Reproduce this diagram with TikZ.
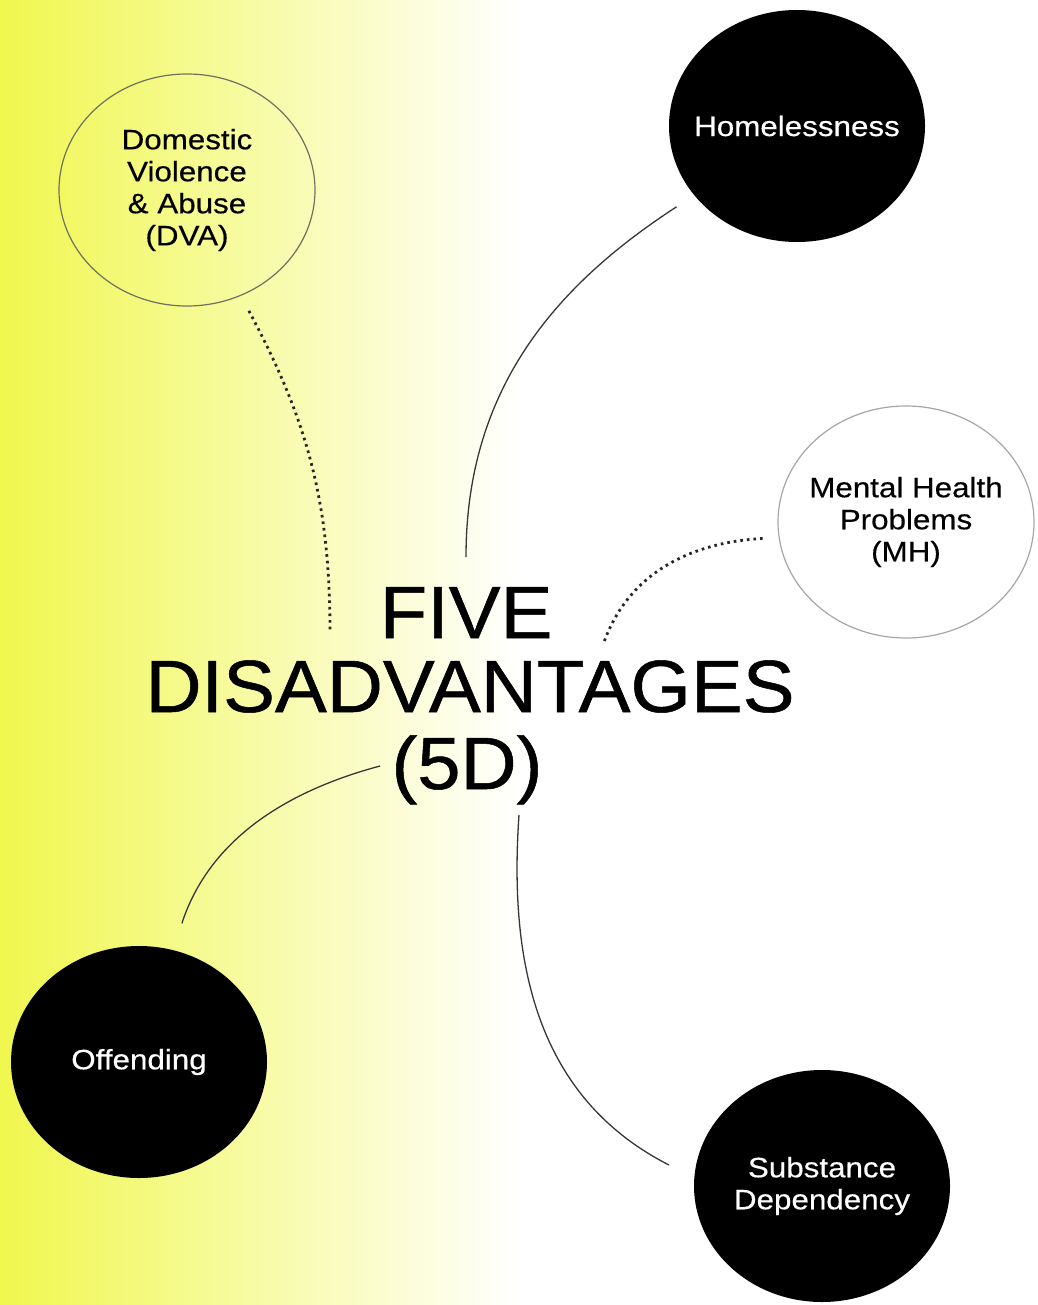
\documentclass[tikz,border=0pt]{standalone}
\usepackage{fontspec}
\setmainfont{Liberation Sans}
\newfontfamily\labelfont[FakeStretch=1.12,FakeBold=0.4]{Liberation Sans}
\newfontfamily\titlefont[FakeStretch=1.05,FakeBold=0.7]{Liberation Sans}
\usetikzlibrary{shapes.geometric}
\definecolor{bgyellow}{RGB}{240,247,78}
\definecolor{ringgray}{RGB}{112,112,96}
\definecolor{linegray}{RGB}{55,55,55}

\begin{document}
\begin{tikzpicture}[x=1pt,y=-1pt]

                \tikzset{topic/.style = {shape=ellipse,minimum width=256pt,minimum height=232pt,inner sep=-40pt,align=center,font=\labelfont\fontsize{28}{32}\selectfont}}
                \tikzset{dark/.style = {topic,fill=black,text=white}}
                \tikzset{light/.style = {topic,draw=ringgray,line width=1.2pt,text=black}}
                \tikzset{headline/.style = {anchor=base,font=\titlefont\fontsize{74}{75}\selectfont,text=black}}
                \tikzset{solidlink/.style = {draw=linegray,line width=1.3pt}}
                \tikzset{dotlink/.style = {draw=black!85,line width=2.8pt,dash pattern=on 2.6pt off 4pt}}

                % background
                \useasboundingbox (0,0) rectangle (1037,1305);
                \shade[left color=bgyellow,right color=white] (0,0) rectangle (520,1305);
                \fill[white] (520,0) rectangle (1037,1305);

                \node[light] (dva) at (187,190) {Domestic\\Violence\\\& Abuse\\(DVA)};
                \node[dark] (hom) at (797,126) {Homelessness};
                \node[light,draw=gray!70] (mh) at (906,522) {Mental Health\\Problems\\(MH)};
                \node[dark] (off) at (139,1062) {Offending};
                \node[dark] (sub) at (822,1186) {Substance\\Dependency};

                \node[headline] (five) at (466,638) {FIVE};
                \node[headline] (disadv) at (470,712) {DISADVANTAGES};
                \node[headline] (fived) at (467,789) {(5D)};

                \coordinate (dvaend) at (330,632);
                \coordinate (homend) at (466,557);
                \coordinate (mhend) at (604,642);
                \coordinate (offend) at (380,766);
                \coordinate (subend) at (519,815);

                \draw[dotlink,shorten <=17pt] (dva.-63) to[out=-62,in=90] (dvaend);
                \draw[solidlink,shorten <=21pt] (hom.-146) to[out=213,in=90] (homend);
                \draw[dotlink,shorten <=16pt] (mh.187) to[out=183,in=70] (mhend);
                \draw[solidlink,shorten <=28pt] (off.73) to[out=72,in=195] (offend);
                \draw[solidlink] (subend) to[out=-94,in=153] ([xshift=-153pt,yshift=21pt]sub.center);

            \end{tikzpicture}
\end{document}
